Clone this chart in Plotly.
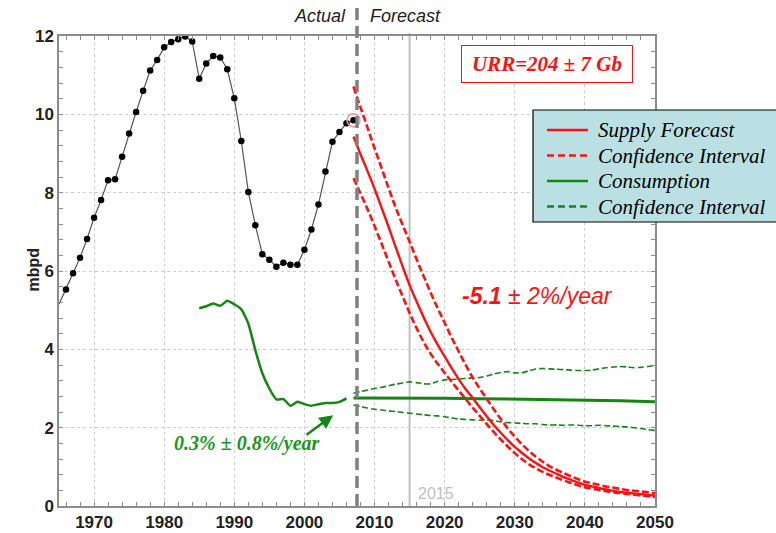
import plotly.graph_objects as go

# ---------------- data ----------------
hist_years = list(range(1965, 2008))
hist_supply = [5.15, 5.53, 5.94, 6.34, 6.82, 7.36, 7.81, 8.32, 8.34, 8.92,
               9.51, 10.06, 10.60, 11.12, 11.39, 11.71, 11.85, 11.92, 11.99, 11.86,
               10.91, 11.30, 11.49, 11.45, 11.15, 10.41, 9.32, 8.02, 7.17, 6.43,
               6.29, 6.11, 6.21, 6.16, 6.16, 6.54, 7.06, 7.70, 8.54, 9.30,
               9.55, 9.77, 9.85]

cons_years = list(range(1985, 2007))
cons_hist = [5.05, 5.10, 5.17, 5.11, 5.24, 5.15, 5.02, 4.66, 3.98, 3.39,
             3.00, 2.72, 2.73, 2.56, 2.66, 2.60, 2.56, 2.60, 2.63, 2.63,
             2.66, 2.75]

fc_years = list(range(2007, 2051))
supply_fc = [9.43, 8.98, 8.55, 8.10, 7.62, 7.13, 6.62, 6.12, 5.64, 5.22,
             4.82, 4.45, 4.12, 3.82, 3.52, 3.24, 2.98, 2.76, 2.52, 2.29,
             2.07, 1.87, 1.68, 1.51, 1.36, 1.22, 1.10, 0.99, 0.90, 0.82,
             0.74, 0.67, 0.60, 0.54, 0.50, 0.46, 0.42, 0.39, 0.36, 0.34,
             0.32, 0.30, 0.28, 0.27]
supply_hi = [10.71, 10.18, 9.66, 9.14, 8.63, 8.12, 7.63, 7.18, 6.75, 6.30,
             5.87, 5.45, 5.05, 4.68, 4.30, 3.95, 3.60, 3.28, 3.00, 2.74,
             2.47, 2.22, 1.98, 1.77, 1.58, 1.41, 1.26, 1.13, 1.01, 0.92,
             0.84, 0.76, 0.69, 0.62, 0.58, 0.54, 0.50, 0.47, 0.44, 0.41,
             0.39, 0.37, 0.35, 0.33]
supply_lo = [8.37, 7.98, 7.58, 7.15, 6.70, 6.24, 5.79, 5.36, 4.93, 4.54,
             4.19, 3.89, 3.63, 3.40, 3.17, 2.95, 2.73, 2.51, 2.30, 2.09,
             1.89, 1.70, 1.52, 1.35, 1.20, 1.07, 0.96, 0.87, 0.79, 0.72,
             0.65, 0.59, 0.53, 0.48, 0.44, 0.41, 0.38, 0.35, 0.33, 0.31,
             0.29, 0.27, 0.25, 0.23]

cons_fc_years = [2007, 2010, 2015, 2020, 2025, 2030, 2035, 2040, 2045, 2050]
cons_fc = [2.76, 2.76, 2.75, 2.75, 2.74, 2.73, 2.72, 2.70, 2.69, 2.66]
cons_hi = [2.88, 2.92, 2.96, 3.00, 3.03, 3.07, 3.11, 3.14, 3.17, 3.15,
           3.12, 3.12, 3.18, 3.22, 3.23, 3.24, 3.26, 3.27, 3.28, 3.32,
           3.37, 3.41, 3.43, 3.40, 3.40, 3.45, 3.50, 3.51, 3.50, 3.49,
           3.48, 3.47, 3.46, 3.46, 3.47, 3.50, 3.53, 3.55, 3.56, 3.55,
           3.53, 3.54, 3.56, 3.58]
cons_lo = [2.58, 2.54, 2.50, 2.47, 2.45, 2.43, 2.41, 2.39, 2.37, 2.35,
           2.33, 2.31, 2.30, 2.28, 2.25, 2.22, 2.21, 2.20, 2.19, 2.20,
           2.18, 2.15, 2.13, 2.12, 2.11, 2.10, 2.10, 2.08, 2.07, 2.07,
           2.06, 2.07, 2.06, 2.05, 2.05, 2.06, 2.05, 2.04, 2.03, 2.02,
           2.00, 1.98, 1.95, 1.93]

forecast_start = 2007.5
marker_year = 2015
x_ticks = [1970, 1980, 1990, 2000, 2010, 2020, 2030, 2040, 2050]
y_ticks = [0, 2, 4, 6, 8, 10, 12]
legend_labels = ["Supply Forecast", "Confidence Interval", "Consumption", "Confidence Interval"]

# ---------------- geometry helpers ----------------
W, H = 776, 533
ML, MR, MT, MB = 59, 121, 36, 27
PW, PH = W - ML - MR, H - MT - MB


def px(x):
    return (x - ML) / PW


def py(y):
    return (H - MB - y) / PH


RED = "#ff1010"
GREEN = "#118811"
SANS = "Liberation Sans"
SERIF = "Liberation Serif"

fig = go.Figure()

# historical supply
fig.add_trace(go.Scatter(x=hist_years, y=hist_supply, mode="lines",
                         line=dict(color="#555555", width=1.2), showlegend=False,
                         hoverinfo="skip"))
fig.add_trace(go.Scatter(x=hist_years[1:], y=hist_supply[1:], mode="markers",
                         marker=dict(color="black", size=6.5), showlegend=False))
fig.add_trace(go.Scatter(x=[hist_years[-1]], y=[hist_supply[-1]], mode="markers",
                         marker=dict(symbol="circle-open", color="#ff8f8f", size=13,
                                     line=dict(width=1.5)), showlegend=False))

# consumption history
fig.add_trace(go.Scatter(x=cons_years, y=cons_hist, mode="lines",
                         line=dict(color=GREEN, width=2.5, shape="spline", smoothing=0.5),
                         showlegend=False))

# consumption forecast
fig.add_trace(go.Scatter(x=fc_years, y=cons_hi, mode="lines",
                         line=dict(color=GREEN, width=1.6, dash="6px,3px", shape="spline", smoothing=0.6),
                         showlegend=False))
fig.add_trace(go.Scatter(x=fc_years, y=cons_lo, mode="lines",
                         line=dict(color=GREEN, width=1.6, dash="6px,3px", shape="spline", smoothing=0.6),
                         showlegend=False))
fig.add_trace(go.Scatter(x=cons_fc_years, y=cons_fc, mode="lines",
                         line=dict(color=GREEN, width=3), showlegend=False))

# supply forecast
fig.add_trace(go.Scatter(x=fc_years, y=supply_hi, mode="lines",
                         line=dict(color=RED, width=2.6, dash="7px,3px", shape="spline"),
                         showlegend=False))
fig.add_trace(go.Scatter(x=fc_years, y=supply_lo, mode="lines",
                         line=dict(color=RED, width=2.6, dash="7px,3px", shape="spline"),
                         showlegend=False))
fig.add_trace(go.Scatter(x=fc_years, y=supply_fc, mode="lines",
                         line=dict(color=RED, width=2.4, shape="spline"),
                         showlegend=False))

shapes = [
    # forecast boundary
    dict(type="line", xref="x", yref="paper", x0=forecast_start, x1=forecast_start,
         y0=0, y1=py(8), line=dict(color="#808080", width=3.5, dash="12px,6px"), layer="above"),
    # 2015 marker
    dict(type="line", xref="x", yref="paper", x0=marker_year, x1=marker_year,
         y0=0, y1=py(33), line=dict(color="#c0c0c0", width=2), layer="below"),
    # legend box
    dict(type="rect", xref="paper", yref="paper", x0=px(533), x1=px(800),
         y0=py(222), y1=py(110), line=dict(color="black", width=1.2),
         fillcolor="#bae0e4", layer="above"),
]

leg_styles = [(RED, "solid"), (RED, "7px,4px"), (GREEN, "solid"), (GREEN, "7px,4px")]
leg_y = [130, 155.5, 181, 206.5]
annotations = []
for (col, dash), yy, lab in zip(leg_styles, leg_y, legend_labels):
    shapes.append(dict(type="line", xref="paper", yref="paper", x0=px(547), x1=px(588),
                       y0=py(yy), y1=py(yy), line=dict(color=col, width=2.5, dash=dash),
                       layer="above"))
    annotations.append(dict(xref="paper", yref="paper", x=px(596), y=py(yy), text="<i>%s</i>" % lab,
                            showarrow=False, xanchor="left", yanchor="middle",
                            font=dict(family=SERIF, size=21, color="black")))

annotations += [
    dict(xref="x", yref="paper", x=2006.2, y=py(16), text="<i>Actual</i>", showarrow=False,
         xanchor="right", yanchor="middle", font=dict(family=SANS, size=18, color="#222")),
    dict(xref="x", yref="paper", x=2009.0, y=py(16), text="<i>Forecast</i>", showarrow=False,
         xanchor="left", yanchor="middle", font=dict(family=SANS, size=18, color="#222")),
    dict(xref="x", yref="y", x=2034.6, y=11.29, text="<b><i>URR=204 ± 7 Gb</i></b>",
         showarrow=False, font=dict(family=SERIF, size=21, color=RED),
         bordercolor=RED, borderwidth=1, borderpad=3, bgcolor="white", width=164, height=30),
    dict(xref="x", yref="y", x=2033.2, y=5.36, text="<b><i>-5.1</i></b><i> ± 2%/year</i>",
         showarrow=False, font=dict(family=SANS, size=23, color=RED)),
    dict(xref="x", yref="y", x=1991.8, y=1.60, text="<b><i>0.3% ± 0.8%/year</i></b>",
         showarrow=False, font=dict(family=SERIF, size=20, color="#1a961a")),
    dict(xref="x", yref="y", x=2004.1, y=2.32, ax=2000.1, ay=1.79, axref="x", ayref="y",
         text="", showarrow=True, arrowhead=2, arrowsize=1.1, arrowwidth=2.5,
         arrowcolor=GREEN),
    dict(xref="x", yref="paper", x=2015.9, y=py(493), text="2015", showarrow=False,
         xanchor="left", yanchor="middle", font=dict(family=SANS, size=16, color="#c0c0c0")),
    dict(xref="paper", yref="paper", x=px(22), y=py(270), text="<b>mbpd</b>", textangle=-90,
         showarrow=False, font=dict(family=SANS, size=16, color="#222")),
]

axis_common = dict(showline=True, linecolor="#8c8c8c", linewidth=1.5, mirror="ticks",
                   ticks="inside", ticklen=4, tickcolor="#8c8c8c",
                   showgrid=True, gridcolor="#cfcfcf", griddash="dot", gridwidth=1,
                   zeroline=False,
                   tickfont=dict(family=SANS, size=17, color="#222", weight="bold"))

fig.update_layout(
    width=W, height=H,
    margin=dict(l=ML, r=MR, t=MT, b=MB, autoexpand=False),
    paper_bgcolor="white", plot_bgcolor="white",
    showlegend=False,
    xaxis=dict(range=[1965, 2050], tickvals=x_ticks,
               minor=dict(dtick=2, ticks="inside", ticklen=4, tickcolor="#8c8c8c", showgrid=False),
               **axis_common),
    yaxis=dict(range=[0, 12], tickvals=y_ticks,
               minor=dict(dtick=0.4, ticks="inside", ticklen=4, tickcolor="#8c8c8c", showgrid=False),
               **axis_common),
    shapes=shapes,
    annotations=annotations,
)

fig.write_html("out.html", config={"displayModeBar": False},
               post_script="document.body.style.margin='0';document.body.style.overflow='hidden';")
